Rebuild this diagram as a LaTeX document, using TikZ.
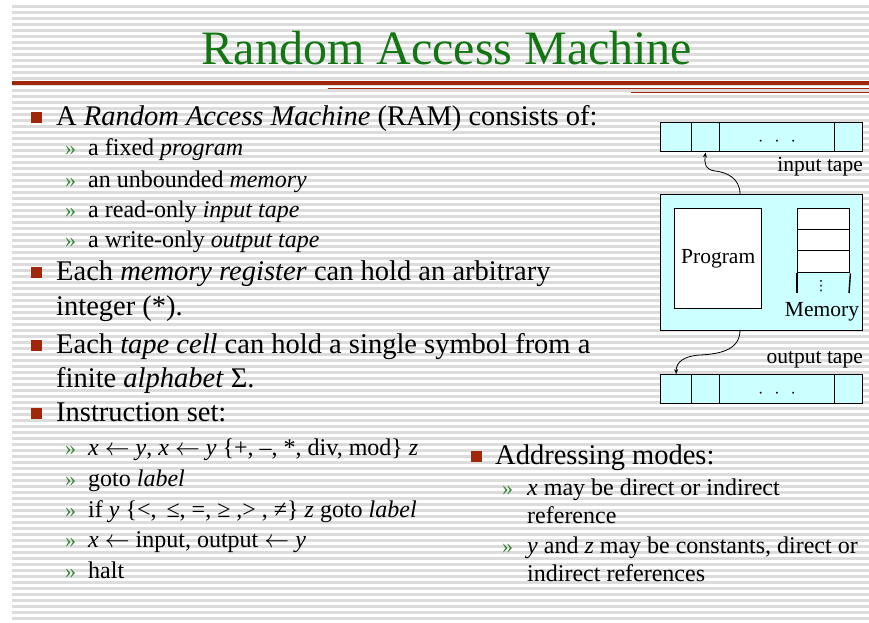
\documentclass[tikz,border=0pt]{standalone}
\usepackage{fontspec}
\setmainfont{Liberation Serif}
\newfontfamily\djv{DejaVu Sans}
\usetikzlibrary{arrows.meta}
\definecolor{titlegreen}{RGB}{18,118,18}
\definecolor{bulred}{RGB}{160,38,12}
\definecolor{chevgreen}{RGB}{60,135,60}
\definecolor{tapecyan}{RGB}{204,255,255}
\definecolor{stripegray}{RGB}{220,220,220}
\newcommand{\larr}{\ensuremath{\leftarrow}}
\tikzset{
  mtext/.style={anchor=base west, inner sep=0pt, font=\fontsize{28.5}{34}\selectfont},
  stext/.style={anchor=base west, inner sep=0pt, font=\fontsize{24}{29}\selectfont},
  sq/.style={fill=bulred, minimum size=11pt, inner sep=0pt},
  chev/.style={anchor=base west, inner sep=0pt, text=chevgreen, font=\fontsize{22}{26}\selectfont},
  dtext/.style={inner sep=0pt, font=\fontsize{21.5}{26}\selectfont},
  boxline/.style={draw=black, line width=1.4pt},
  cellbox/.style={boxline, fill=tapecyan, minimum height=29pt, inner sep=0pt, anchor=north west},
  memcell/.style={boxline, fill=white, minimum width=52pt, inner sep=0pt, anchor=north west},
  tapedots/.style={anchor=base, inner sep=0pt, font=\fontsize{16}{16}\selectfont},
  redline/.style={draw=bulred},
  wire/.style={draw=black, line width=0.8pt, -{Stealth[length=5pt,width=4pt]}},
}
\begin{document}
\begin{tikzpicture}[x=1pt, y=-1pt]
\useasboundingbox (0,0) rectangle (869,622);
\fill[white] (0,0) rectangle (869,622);
% background stripes
\foreach \yy in {5,11,...,617} {\fill[stripegray] (12,\yy) rectangle (869,\yy+3.4);}

% title
\node[anchor=base, inner sep=0pt, text=titlegreen, font=\fontsize{48}{56}\selectfont] (title) at (447,64) {Random Access Machine};
\draw[redline, line width=4pt] (12,83) -- (869,83);
\draw[redline, line width=1.8pt] (328,88.5) -- (869,88.5);
\draw[redline, line width=1.8pt] (631,92.5) -- (869,92.5);

% bullet 1
\node[sq] (b1) at (36.5,117) {};
\node[mtext] (t1) at (56,125) {A \textit{Random Access Machine} (RAM) consists of:};
\node[chev] (c11) at (65,155) {»};
\node[stext] (s11) at (88,155) {a fixed \textit{program}};
\node[chev] (c12) at (65,187) {»};
\node[stext] (s12) at (88,187) {an unbounded \textit{memory}};
\node[chev] (c13) at (65,217) {»};
\node[stext] (s13) at (88,217) {a read-only \textit{input tape}};
\node[chev] (c14) at (65,247) {»};
\node[stext] (s14) at (88,247) {a write-only \textit{output tape}};

% bullet 2
\node[sq] (b2) at (36.5,272) {};
\node[mtext] (t2) at (56,280) {Each \textit{memory register} can hold an arbitrary};
\node[mtext] (t2b) at (56,315) {integer (*).};

% bullet 3
\node[sq] (b3) at (36.5,345) {};
\node[mtext] (t3) at (56,353) {Each \textit{tape cell} can hold a single symbol from a};
\node[mtext] (t3b) at (56,387) {finite \textit{alphabet} Σ.};

% bullet 4
\node[sq] (b4) at (36.5,413) {};
\node[mtext] (t4) at (56,421) {Instruction set:};
\node[chev] (c41) at (65,455) {»};
\node[stext] (s41) at (88,455) {\textit{x} \larr{} \textit{y}, \textit{x} \larr{} \textit{y} \{+, –, *, div, mod\} \textit{z}};
\node[chev] (c42) at (65,486) {»};
\node[stext] (s42) at (88,486) {goto \textit{label}};
\node[chev] (c43) at (65,517) {»};
\node[stext] (s43) at (88,517) {if \textit{y} \{<,\, ≤, =, ≥ ,> , ≠\} \textit{z} goto \textit{label}};
\node[chev] (c44) at (65,547) {»};
\node[stext] (s44) at (88,547) {\textit{x} \larr{} input, output \larr{} \textit{y}};
\node[chev] (c45) at (65,578) {»};
\node[stext] (s45) at (88,578) {halt};

% bullet 5
\node[sq] (b5) at (476,456) {};
\node[mtext] (t5) at (495,464) {Addressing modes:};
\node[chev] (c51) at (502,495) {»};
\node[stext] (s51) at (527,495) {\textit{x} may be direct or indirect};
\node[stext] (s51b) at (527,523) {reference};
\node[chev] (c52) at (502,553) {»};
\node[stext] (s52) at (527,553) {\textit{y} and \textit{z} may be constants, direct or};
\node[stext] (s52b) at (527,581) {indirect references};

% input tape
\node[cellbox, minimum width=31pt] (in1) at (660,122) {};
\node[cellbox, minimum width=28pt] (in2) at (691,122) {};
\node[cellbox, minimum width=115pt] (in3) at (719,122) {};
\node[cellbox, minimum width=28pt] (in4) at (834,122) {};
\node[tapedots] (indots) at (777,146) {·\hspace{11pt}·\hspace{11pt}·};
\node[dtext, anchor=base east] (inlab) at (863,171) {input tape};

% main machine box
\node[boxline, fill=tapecyan, minimum width=202pt, minimum height=136pt, inner sep=0pt, anchor=north west] (main) at (660,194) {};
\node[boxline, fill=white, minimum width=87pt, minimum height=100pt, inner sep=0pt, anchor=north west, font=\fontsize{21.5}{26}\selectfont] (prog) at (674,208) {Program};
\node[memcell, minimum height=21pt] (m1) at (797,208) {};
\node[memcell, minimum height=21pt] (m2) at (797,229) {};
\node[memcell, minimum height=22pt] (m3) at (797,250) {};
\coordinate (m3l) at (797,293);
\coordinate (m3r) at (849,293);
\draw[boxline] (m3.south west) -- (m3l);
\draw[boxline] (m3.south east) -- (m3r);
\node[inner sep=0pt, font=\djv\fontsize{14}{14}\selectfont] (mdots) at (821,286) {⋮};
\node[dtext] (memlab) at (822,312) {Memory};

% output tape
\node[dtext, anchor=base east] (outlab) at (863,363) {output tape};
\node[cellbox, minimum width=31pt] (out1) at (660,374) {};
\node[cellbox, minimum width=28pt] (out2) at (691,374) {};
\node[cellbox, minimum width=115pt] (out3) at (719,374) {};
\node[cellbox, minimum width=28pt] (out4) at (834,374) {};
\node[tapedots] (outdots) at (777,398) {·\hspace{11pt}·\hspace{11pt}·};

% connectors
\coordinate (mtop) at (740,194);
\coordinate (mbot) at (740,330);
\draw[wire] (mtop) .. controls (740,178) and (726,172) .. (715,171)
  .. controls (705,170) and (704,162) .. (in2.south);
\draw[wire] (mbot) .. controls (740,350) and (720,354) .. (700,355)
  .. controls (684,356) and (676,362) .. (out1.north);
\end{tikzpicture}
\end{document}
